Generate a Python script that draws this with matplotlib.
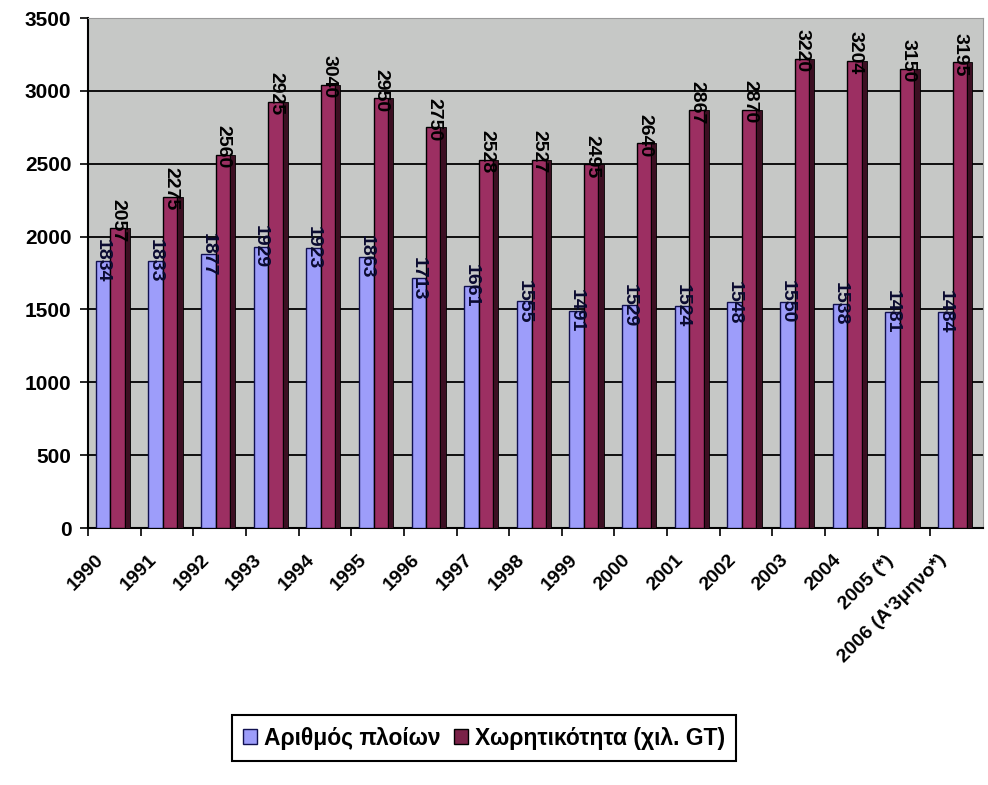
import numpy as np
import matplotlib
matplotlib.use("Agg")
import matplotlib.pyplot as plt
import matplotlib.transforms as mtransforms
from matplotlib.patches import Patch

# Data
years = ["1990", "1991", "1992", "1993", "1994", "1995", "1996", "1997", "1998",
         "1999", "2000", "2001", "2002", "2003", "2004", "2005 (*)",
         "2006 (Α'3μηνο*)"]
ships = [1834, 1833, 1877, 1929, 1923, 1863, 1713, 1661, 1555,
         1491, 1529, 1524, 1548, 1550, 1538, 1481, 1484]
tonnage = [2057, 2275, 2560, 2925, 3040, 2950, 2750, 2528, 2527,
           2495, 2640, 2867, 2870, 3220, 3204, 3150, 3195]

series_names = ["Αριθμός πλοίων", "Χωρητικότητα (χιλ. GT)"]
yticks = [0, 500, 1000, 1500, 2000, 2500, 3000, 3500]

BLUE = "#9d9dfa"
PLUM = "#9c2f62"
PLUM_SIDE = "#3c0f22"
WALL = "#c6c8c6"


def plot_fleet():
    plt.rcParams['font.family'] = ['Liberation Sans', 'DejaVu Sans']
    fig = plt.figure(figsize=(9.88, 7.85), dpi=100)
    ax = fig.add_axes([88 / 988, 1 - 528 / 785, 895 / 988, 510 / 785])
    ax.set_facecolor(WALL)

    x = np.arange(len(years))

    # gridlines on the back wall
    ax.set_axisbelow(True)
    ax.yaxis.grid(True, color="black", linewidth=1.3)

    # front faces and dark right-hand side of the columns
    ax.bar(x - 0.215, ships, width=0.28, color=BLUE, edgecolor="#101050",
           linewidth=1.0, zorder=3)
    ax.bar(x + 0.06, tonnage, width=0.27, color=PLUM, edgecolor="black",
           linewidth=1.0, zorder=3)
    ax.bar(x + 0.245, tonnage, width=0.10, color=PLUM_SIDE, edgecolor="black",
           linewidth=0.6, zorder=3)

    # value labels, rotated
    for xi, v in zip(x, ships):
        ax.text(xi - 0.22, v, str(v), rotation=270, ha="center", va="center",
                fontsize=14, fontweight="bold", color="#0a0a30", zorder=5)
    for xi, v in zip(x, tonnage):
        ax.text(xi + 0.07, v + 55, str(v), rotation=270, ha="center",
                va="center", fontsize=14, fontweight="bold", color="black",
                zorder=5, clip_on=True)

    ax.set_xlim(-0.5, len(years) - 0.5)
    ax.set_ylim(0, 3500)
    ax.set_yticks(yticks)
    ax.set_yticklabels([str(t) for t in yticks], fontsize=15, fontweight="bold")
    ax.tick_params(axis="y", length=6, width=1.2, pad=6)

    ax.set_xticks(x)
    ax.set_xticklabels(years, rotation=45, ha="right", va="top",
                       rotation_mode="anchor", fontsize=14, fontweight="bold")
    ax.set_xticks(x - 0.5, minor=True)
    ax.tick_params(axis="x", which="major", length=0, pad=17)
    ax.tick_params(axis="x", which="minor", length=6, width=1.2)
    shift = mtransforms.ScaledTranslation(-0.19, 0, fig.dpi_scale_trans)
    for lbl in ax.get_xticklabels():
        lbl.set_transform(lbl.get_transform() + shift)

    for side in ("top", "right"):
        ax.spines[side].set_color("#9a9a9a")
    ax.spines["left"].set_linewidth(1.5)
    ax.spines["bottom"].set_linewidth(1.5)

    handles = [Patch(facecolor=BLUE, edgecolor="#101050"),
               Patch(facecolor="#7a2248", edgecolor="black")]
    leg = fig.legend(handles, series_names, loc="center", ncol=2,
                     bbox_to_anchor=(484 / 988, 1 - 738 / 785),
                     fancybox=False, edgecolor="black", framealpha=1,
                     handlelength=0.6, handleheight=0.6, handletextpad=0.3,
                     columnspacing=0.6, borderpad=0.5,
                     prop={"size": 16.5, "weight": "bold"})
    leg.get_frame().set_linewidth(1.5)

    fig.savefig("out.png", dpi=100)


def main():
    plot_fleet()


if __name__ == "__main__":
    main()
